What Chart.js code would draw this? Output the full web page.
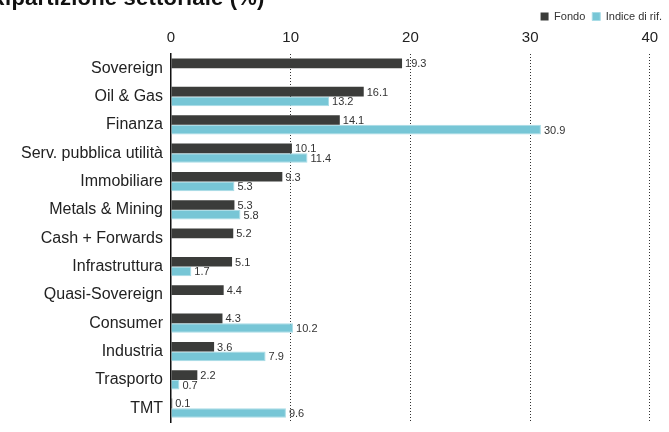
<!DOCTYPE html>
<html>
<head>
<meta charset="utf-8">
<script src="https://cdn.jsdelivr.net/npm/chart.js@4/dist/chart.umd.min.js"></script>
<style>
  html, body { margin: 0; padding: 0; background: #fff; overflow: hidden; }
  #wrap { position: relative; width: 669px; height: 440px; }
  #titolo {
    position: absolute; left: -11px; top: -15px;
    font-family: "Liberation Sans", Arial, sans-serif;
    font-weight: bold; font-size: 22px; color: #111; line-height: 26px;
    letter-spacing: 0.2px;
  }
</style>
</head>
<body>
<div id="wrap">
  <div id="titolo">Ripartizione settoriale (%)</div>
  <canvas id="id_chart"></canvas>
</div>
<script>
// dati
var settori = ["Sovereign", "Oil & Gas", "Finanza", "Serv. pubblica utilità", "Immobiliare",
    "Metals & Mining", "Cash + Forwards", "Infrastruttura", "Quasi-Sovereign", "Consumer",
    "Industria", "Trasporto", "TMT"];
var fondo  = [19.3, 16.1, 14.1, 10.1, 9.3, 5.3, 5.2, 5.1, 4.4, 4.3, 3.6, 2.2, 0.1];
var indice = [null, 13.2, 30.9, 11.4, 5.3, 5.8, null, 1.7, null, 10.2, 7.9, 0.7, 9.6];
var xTicks = [0, 10, 20, 30, 40];

var FONT = "'Liberation Sans', Arial, sans-serif";
var CHART_TOP = 54, CHART_LEFT = 171;

// etichette dei valori a destra delle barre
var valueLabels = {
    id: "valueLabels",
    afterDatasetsDraw: function(chart){
        var ctx = chart.ctx;
        ctx.save();
        ctx.font = "11px " + FONT;
        ctx.fillStyle = "#333";
        ctx.textBaseline = "middle";
        ctx.textAlign = "left";
        chart.data.datasets.forEach(function(ds, i){
            var meta = chart.getDatasetMeta(i);
            meta.data.forEach(function(bar, j){
                var v = ds.data[j];
                if( v === null ) return;
                ctx.fillText(v.toFixed(1), bar.x + 3, bar.y + 1);
            });
        });
        ctx.restore();
    }
};

var ctx = document.getElementById("id_chart").getContext("2d");
var myChart = new Chart(ctx, {
    type: "bar",
    data: {
        labels: settori,
        datasets: [
            { label: "Fondo", data: fondo, backgroundColor: "#3b3c3a",
              barPercentage: 1, categoryPercentage: 0.68 },
            { label: "Indice di rif.", data: indice, backgroundColor: "#77c6d6",
              borderColor: "#a8dce6", borderWidth: 1,
              barPercentage: 1, categoryPercentage: 0.68 }
        ]
    },
    options: {
        indexAxis: "y",
        responsive: true,
        maintainAspectRatio: false,
        animation: false,
        layout: { padding: { left: 0, right: 0, top: 4, bottom: 3 } },
        plugins: {
            legend: {
                position: "top",
                align: "end",
                labels: {
                    boxWidth: 8, boxHeight: 8, padding: 7,
                    color: "#333",
                    font: { family: FONT, size: 11 }
                }
            },
            tooltip: { enabled: false }
        },
        scales: {
            x: {
                position: "top",
                min: 0, max: 41.6,   // 40 cade a x=650, l'area arriva al bordo
                afterBuildTicks: function(scale){
                    scale.ticks = xTicks.map(function(v){ return { value: v }; });
                },
                afterFit: function(scale){
                    var lg = scale.chart.legend;
                    var used = (lg && lg.height ? lg.height : 25) + 4;
                    scale.height = CHART_TOP - used;
                },
                ticks: { color: "#222", font: { family: FONT, size: 15 }, padding: 7, maxRotation: 0 },
                grid: {
                    drawTicks: false,
                    color: function(c){ return c.tick && c.tick.value === 0 ? "rgba(0,0,0,0)" : "#333"; },
                    lineWidth: 1
                },
                border: { display: false, dash: [1, 2] }
            },
            y: {
                afterFit: function(scale){ scale.width = CHART_LEFT; },
                ticks: { color: "#222", font: { family: FONT, size: 16 }, padding: 8 },
                grid: { display: false, drawTicks: false },
                border: { display: true, color: "#111", width: 1.5 }
            }
        }
    },
    plugins: [valueLabels]
});
</script>
</body>
</html>
